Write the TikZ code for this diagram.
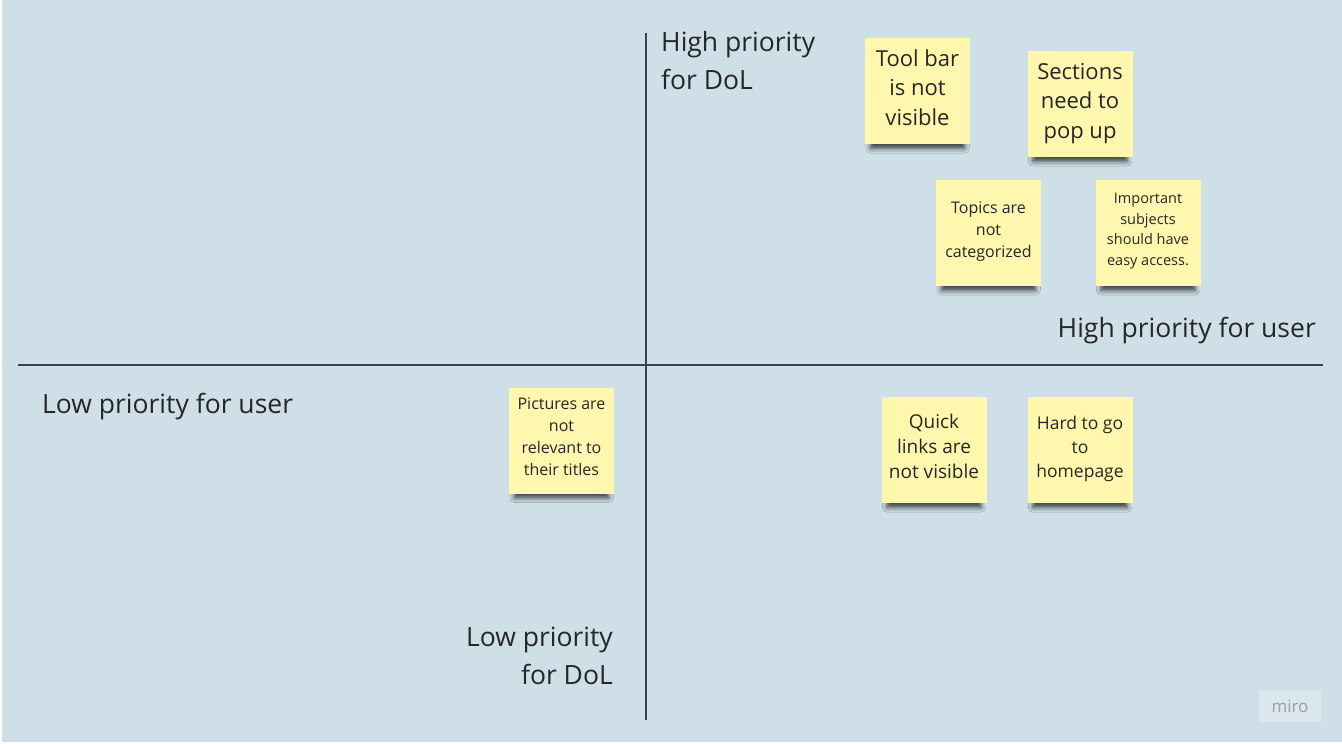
\documentclass[tikz,border=0pt]{standalone}
\usepackage{fontspec}
\setmainfont{Open Sans}
\usetikzlibrary{shadows.blur}
\definecolor{board}{HTML}{CEDFE8}
\definecolor{sticky}{HTML}{FFF7AE}
\definecolor{axisline}{HTML}{3A444C}

\begin{document}
\begin{tikzpicture}[x=1pt,y=-1pt,
  note/.style={fill=sticky, minimum width=105pt, minimum height=106pt, inner sep=2pt,
    align=center, text=black!85, text depth=7pt,
    blur shadow={shadow xshift=0pt, shadow yshift=-11pt, shadow blur radius=5pt,
      shadow scale=0.9, shadow opacity=70}},
  axislabel/.style={font=\fontsize{26.5}{38}\selectfont, text=black!85, inner sep=0pt}]
  \fill[white] (0,0) rectangle (1342,744);
  \fill[board] (2,0) rectangle (1342,742);
  % axes
  \coordinate (top) at (646,33);
  \coordinate (bottom) at (646,720);
  \coordinate (left) at (18,365);
  \coordinate (right) at (1323,365);
  \draw[axisline, line width=1.2pt] (top) -- (bottom);
  \draw[axisline, line width=1.2pt] (left) -- (right);
  \node[axislabel, anchor=west, align=left] (highdol) at (661,61) {High priority\\for DoL};
  \node[axislabel, anchor=east, align=right] (lowdol) at (613,656) {Low priority\\for DoL};
  \node[axislabel, anchor=east] (highuser) at (1316,331) {High priority for user};
  \node[axislabel, anchor=west] (lowuser) at (42,407) {Low priority for user};
  % sticky notes
  \node[note, font=\fontsize{22}{29.5}\selectfont] (toolbar) at (917.5,91) {Tool bar\\is not\\visible};
  \node[note, font=\fontsize{22}{29.5}\selectfont] (sections) at (1080,104) {Sections\\need to\\pop up};
  \node[note, font=\fontsize{16}{22}\selectfont] (topics) at (988.5,233) {Topics are\\not\\categorized};
  \node[note, font=\fontsize{14.5}{20.5}\selectfont] (access) at (1148,233) {Important\\subjects\\should have\\easy access.};
  \node[note, font=\fontsize{16}{22}\selectfont] (pictures) at (561.5,440.5) {Pictures are\\not\\relevant to\\their titles};
  \node[note, font=\fontsize{19}{25}\selectfont] (quick) at (934,450) {Quick\\links are\\not visible};
  \node[note, font=\fontsize{17.5}{24}\selectfont] (homepage) at (1080,450) {Hard to go\\to\\homepage};
  % logo
  \node[fill=white, fill opacity=0.25, text opacity=1, minimum width=62pt, minimum height=32pt,
    text=gray!75, font=\fontsize{17}{17}\selectfont] (miro) at (1290,706) {miro};
\end{tikzpicture}
\end{document}
